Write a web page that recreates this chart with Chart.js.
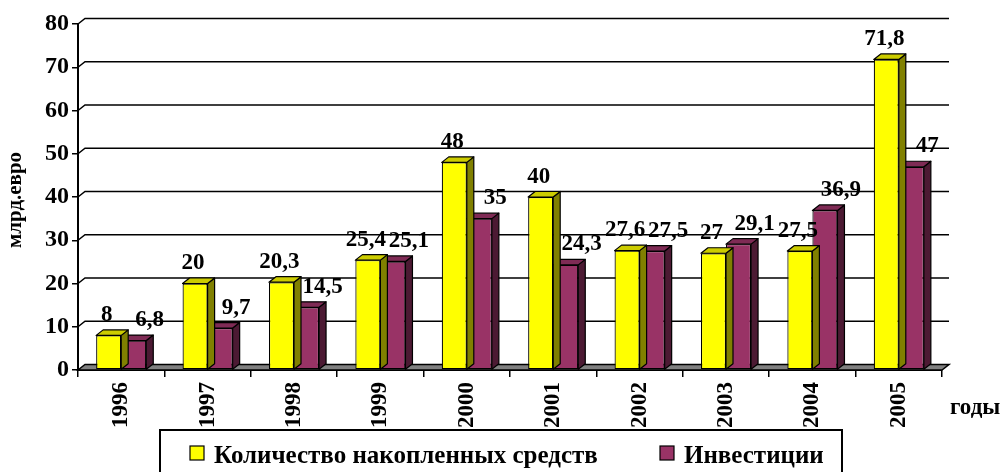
<!DOCTYPE html>
<html><head><meta charset="utf-8">
<script src="https://cdn.jsdelivr.net/npm/chart.js@4.4.1/dist/chart.umd.min.js"></script>
<style>html,body{margin:0;padding:0;background:#fff;overflow:hidden}#wrap{width:1002px;height:472px;position:relative}</style>
</head><body><div id="wrap"><canvas id="c" width="1002" height="472"></canvas></div>
<script>
const years = ['1996','1997','1998','1999','2000','2001','2002','2003','2004','2005'];
const accumulated = [8, 20, 20.3, 25.4, 48, 40, 27.6, 27, 27.5, 71.8];
const investments = [6.8, 9.7, 14.5, 25.1, 35, 24.3, 27.5, 29.1, 36.9, 47];
const seriesNames = ['Количество накопленных средств', 'Инвестиции'];
const yTicks = [0, 10, 20, 30, 40, 50, 60, 70, 80];
const yTitle = 'млрд.евро';
const xTitle = 'годы';

const FONT = 'Liberation Serif, Times New Roman, serif';
const DX = 7, DY = 5.5;
const faces = [
  {front: '#FFFF00', top: '#CCCC00', side: '#808000', labelShift: -2},
  {front: '#993366', top: '#7F2B55', side: '#4C1A33', labelShift: 16}
];

function poly(ctx, pts, fill) {
  ctx.beginPath();
  ctx.moveTo(pts[0][0], pts[0][1]);
  for (let i = 1; i < pts.length; i++) ctx.lineTo(pts[i][0], pts[i][1]);
  ctx.closePath();
  if (fill) { ctx.fillStyle = fill; ctx.fill(); }
  ctx.stroke();
}

const threeD = {
  id: 'threeD',
  beforeDatasetsDraw(chart) {
    const ctx = chart.ctx, a = chart.chartArea, ys = chart.scales.y;
    ctx.save();
    ctx.strokeStyle = '#000';
    ctx.lineWidth = 1.5;
    yTicks.forEach(v => {
      if (v === 0) return;
      const py = ys.getPixelForValue(v);
      ctx.beginPath();
      ctx.moveTo(a.left, py);
      ctx.lineTo(a.left + DX, py - DY);
      ctx.lineTo(a.right + DX, py - DY);
      ctx.stroke();
    });
    const p0 = ys.getPixelForValue(0);
    poly(ctx, [[a.left, p0], [a.left + DX, p0 - DY], [a.right + DX, p0 - DY], [a.right, p0]], '#808080');
    ctx.restore();
  },
  afterDatasetDraw(chart, args) {
    const ctx = chart.ctx, f = faces[args.index];
    const meta = chart.getDatasetMeta(args.index);
    ctx.save();
    ctx.strokeStyle = '#000';
    ctx.lineWidth = 1.2;
    ctx.lineJoin = 'round';
    meta.data.forEach(el => {
      const L = el.x - el.width / 2, R = el.x + el.width / 2, T = el.y, B = el.base;
      poly(ctx, [[R, T], [R + DX, T - DY], [R + DX, B - DY], [R, B]], f.side);
      poly(ctx, [[L, T], [L + DX, T - DY], [R + DX, T - DY], [R, T]], f.top);
    });
    ctx.restore();
  },
  afterDatasetsDraw(chart) {
    const ctx = chart.ctx;
    ctx.save();
    ctx.fillStyle = '#000';
    ctx.font = 'bold 23px ' + FONT;
    ctx.textAlign = 'center';
    ctx.textBaseline = 'alphabetic';
    chart.data.datasets.forEach((ds, i) => {
      const meta = chart.getDatasetMeta(i);
      meta.data.forEach((el, j) => {
        const txt = String(ds.data[j]).replace('.', ',');
        ctx.fillText(txt, el.x + faces[i].labelShift, el.y - DY - 9);
      });
    });
    ctx.restore();
  },
  afterDraw(chart) {
    const ctx = chart.ctx, a = chart.chartArea;
    ctx.save();
    ctx.fillStyle = '#000';
    ctx.font = 'bold 23px ' + FONT;
    ctx.textAlign = 'left';
    ctx.textBaseline = 'middle';
    ctx.fillText(xTitle, 950, 408);
    ctx.save();
    ctx.translate(16, 200);
    ctx.rotate(-Math.PI / 2);
    ctx.textAlign = 'center';
    ctx.font = 'bold 21px ' + FONT;
    ctx.fillText(yTitle, 0, 0);
    ctx.restore();
    ctx.strokeStyle = '#000';
    ctx.lineWidth = 2;
    ctx.strokeRect(160, 430, 682, 60);
    ctx.font = 'bold 25px ' + FONT;
    ctx.textAlign = 'left';
    ctx.textBaseline = 'alphabetic';
    const itemX = [190, 660];
    chart.data.datasets.forEach((ds, i) => {
      const x = itemX[i];
      ctx.fillStyle = ds.backgroundColor;
      ctx.lineWidth = 1.2;
      ctx.fillRect(x, 446, 14, 14);
      ctx.strokeRect(x, 446, 14, 14);
      ctx.fillStyle = '#000';
      ctx.fillText(ds.label, x + 24, 463);
    });
    ctx.restore();
  }
};

new Chart(document.getElementById('c'), {
  type: 'bar',
  data: {
    labels: years,
    datasets: [
      {label: seriesNames[0], data: accumulated, backgroundColor: faces[0].front, borderColor: '#000', borderWidth: 1.2, borderSkipped: false},
      {label: seriesNames[1], data: investments, backgroundColor: faces[1].front, borderColor: '#000', borderWidth: 1.2, borderSkipped: false}
    ]
  },
  options: {
    responsive: false,
    animation: false,
    devicePixelRatio: 1,
    categoryPercentage: 0.58,
    barPercentage: 1.0,
    layout: {padding: {top: 24, right: 60, bottom: 0, left: 0}},
    plugins: {legend: {display: false}, tooltip: {enabled: false}},
    scales: {
      x: {
        offset: true,
        grid: {display: true, drawOnChartArea: false, drawTicks: true, tickLength: 7, color: '#000', lineWidth: 1.5, offset: true},
        border: {display: true, color: '#000', width: 2},
        ticks: {minRotation: 90, maxRotation: 90, autoSkip: false, color: '#000', padding: 5,
          font: {family: FONT, weight: 'bold', size: 23}},
        afterFit(s) { s.height = 102; }
      },
      y: {
        min: 0, max: 80,
        grid: {display: true, drawOnChartArea: false, drawTicks: true, tickLength: 6, color: '#000', lineWidth: 1.5},
        border: {display: true, color: '#000', width: 2},
        ticks: {stepSize: 10, color: '#000', padding: 3, font: {family: FONT, weight: 'bold', size: 24}},
        afterFit(s) { s.width = 78; }
      }
    }
  },
  plugins: [threeD]
});
</script></body></html>
